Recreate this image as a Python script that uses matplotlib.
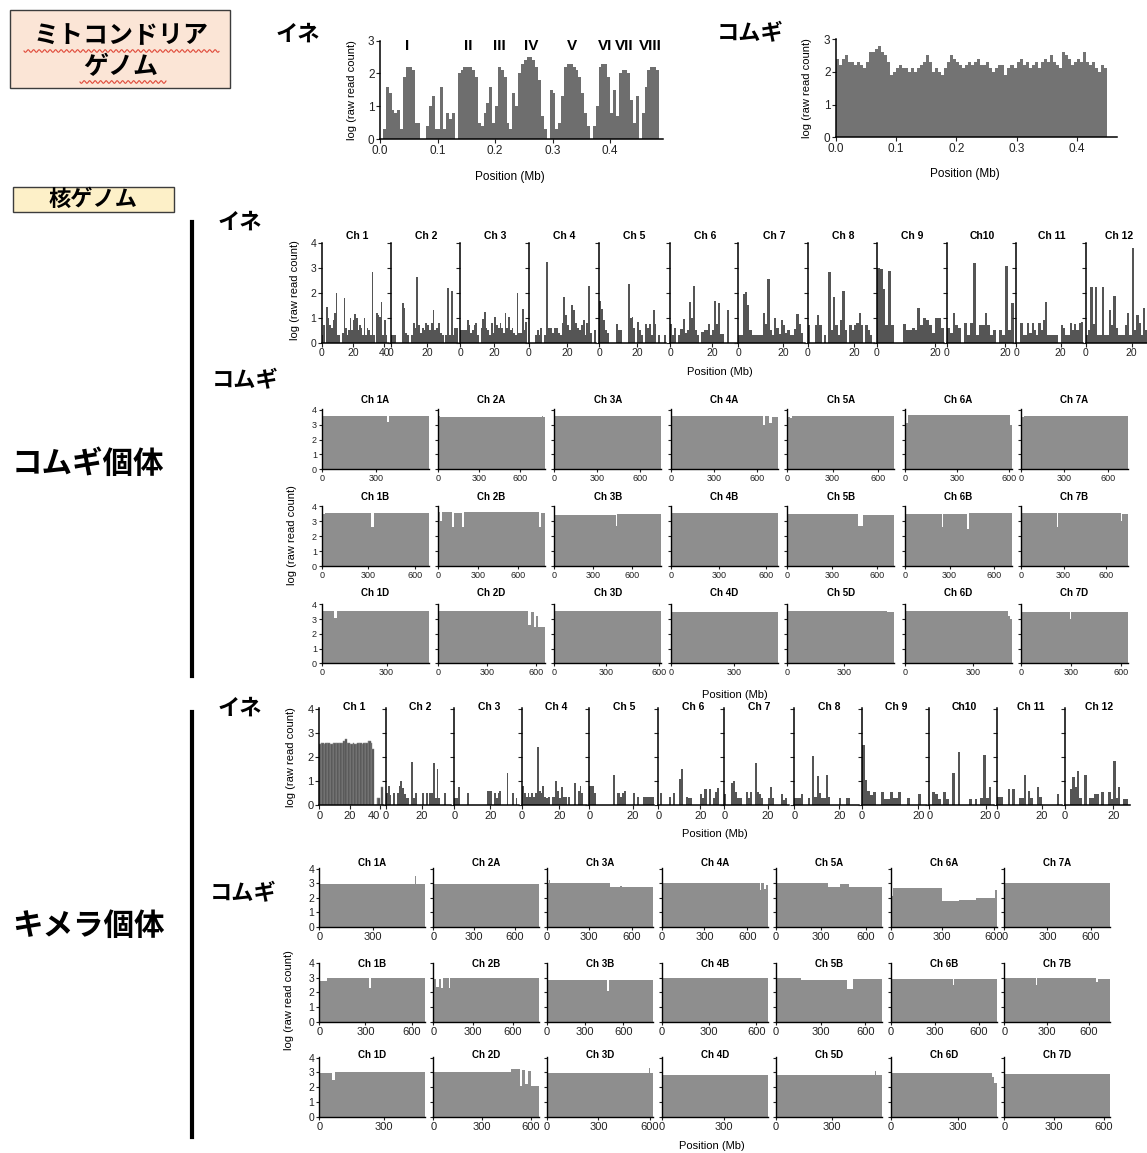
import numpy as np
import matplotlib
matplotlib.use('Agg')
import matplotlib.pyplot as plt
from matplotlib.patches import Rectangle
from matplotlib.lines import Line2D

plt.rcParams['font.family'] = ['Liberation Sans', 'DejaVu Sans']
JP = ['Noto Sans CJK JP', 'DejaVu Sans']

# ---------------- data ----------------
MITO_BIN = 0.005
mito_rice = [0, 0.3, 1.6, 1.4, 0.9, 0.8, 0.9, 0.3, 1.9, 2.2, 2.2, 2.1, 0.5, 0.5, 0, 0,
             0.4, 1.0, 1.3, 0.3, 0.3, 1.6, 0.3, 0.8, 0.6, 0.8, 0, 2.0, 2.1, 2.2, 2.2, 2.2,
             2.1, 1.9, 0.5, 0.4, 0.8, 1.1, 1.6, 0.5, 1.0, 2.2, 2.1, 1.9, 0.5, 0.3, 1.4, 1.0,
             2.0, 2.3, 2.4, 2.5, 2.5, 2.4, 2.2, 1.8, 0.7, 0.3, 0, 1.5, 1.4, 0.3, 0.5, 1.3,
             2.2, 2.3, 2.3, 2.2, 2.1, 1.9, 1.4, 0.8, 0.4, 0, 0.4, 1.0, 2.2, 2.3, 2.3, 1.9,
             0.8, 1.5, 0.7, 2.0, 2.1, 2.1, 2.0, 1.2, 0.5, 1.3, 0, 0.8, 1.6, 2.1, 2.2, 2.2, 2.1]
mito_rice_regions = ['I', 'II', 'III', 'IV', 'V', 'VI', 'VII', 'VIII']
mito_rice_region_pos = [0.048, 0.153, 0.207, 0.262, 0.334, 0.392, 0.425, 0.47]

mito_wheat = [2.4, 2.2, 2.4, 2.5, 2.3, 2.3, 2.2, 2.3, 2.2, 2.1,
              2.3, 2.6, 2.6, 2.7, 2.8, 2.6, 2.5, 2.3, 1.9, 2.0,
              2.1, 2.2, 2.1, 2.1, 2.0, 2.1, 2.0, 2.1, 2.2, 2.3,
              2.5, 2.3, 2.0, 2.1, 2.0, 1.9, 2.1, 2.3, 2.5, 2.4,
              2.3, 2.2, 2.1, 2.2, 2.3, 2.2, 2.3, 2.4, 2.2, 2.2,
              2.3, 2.1, 2.0, 2.1, 2.2, 2.2, 1.9, 2.1, 2.2, 2.1,
              2.3, 2.4, 2.2, 2.3, 2.1, 2.2, 2.3, 2.1, 2.3, 2.4,
              2.3, 2.5, 2.3, 2.2, 2.1, 2.6, 2.5, 2.4, 2.2, 2.3,
              2.4, 2.3, 2.6, 2.3, 2.2, 2.3, 2.1, 2.0, 2.2, 2.1]

rice_names = ['Ch 1', 'Ch 2', 'Ch 3', 'Ch 4', 'Ch 5', 'Ch 6', 'Ch 7', 'Ch 8',
              'Ch 9', 'Ch10', 'Ch 11', 'Ch 12']

# rice reads in the wheat individual, log(raw read count) per 1-Mb bin
rice_in_wheat = [
    [0.3, 0.7, 0, 1.45, 1.0, 0.7, 0.6, 0.9, 1.2, 2.0, 0.3, 0.3, 0, 0.4, 1.8, 0.6, 0.3, 0.5, 1.0, 0.5, 0.9,
     1.15, 1.0, 0.5, 0.7, 0.6, 0.3, 1.0, 0.3, 0.6, 0.5, 0.3, 2.85, 0.3, 0, 1.2, 1.1, 1.05, 1.65, 0.3, 0.9, 0.3, 0],
    [0.3, 0.3, 0.3, 0, 0, 0, 1.6, 1.4, 0.4, 0.3, 0, 0.3, 0.8, 0.6, 2.65, 0.7, 0.4, 0.6, 0.5, 0.8, 0.7, 0.5,
     0.8, 1.3, 0.5, 0.6, 0.8, 0.4, 0.3, 0, 0.3, 2.2, 0.3, 2.1, 0.3, 0.6, 0.6],
    [0.5, 0.5, 0.5, 0.5, 0.9, 0.7, 0.4, 0.5, 0.7, 0.8, 0.3, 0, 0.6, 0.95, 1.25, 0.6, 0.5, 0.3, 0.8, 0.4, 1.05,
     0.7, 0.6, 0.8, 0.6, 0.4, 1.2, 0.6, 1.05, 0.5, 0.6, 0.4, 0.3, 2.0, 0.4, 0.4, 1.35, 0.5, 0.85],
    [0, 0, 0, 0.3, 0.5, 0.3, 0.6, 0, 0.3, 3.25, 0.6, 0.6, 0.4, 0.6, 0.6, 0.4, 0.3, 0.8, 1.85, 1.1, 0.7, 0.5,
     1.5, 1.3, 0.8, 0.6, 0.5, 0.7, 0.9, 0.3, 0.8, 2.3, 0.4, 0, 0.5],
    [1.7, 1.35, 0.9, 0.5, 0.4, 0, 0, 0, 0, 0.75, 0.5, 0.5, 0, 0, 0, 2.35, 1.0, 1.05, 0.6, 0, 0.85, 0.5, 0.3,
     0, 0.75, 0.6, 0.75, 0.3, 1.3, 0.75, 0, 0.3, 0, 0, 0.3],
    [0.75, 0.3, 0.6, 0, 0.3, 0.55, 0.95, 0.4, 0.5, 1.65, 1.0, 2.3, 0.5, 0.3, 0, 0.45, 0.5, 0.5, 0.75, 0.3,
     0.5, 1.7, 0.75, 1.6, 0.35, 0.35, 0, 1.3, 0, 0, 0, 0],
    [0.3, 0.3, 1.95, 2.05, 1.5, 0.5, 0.3, 0.3, 0.3, 0.3, 0.3, 1.2, 0.75, 2.55, 0.5, 0.3, 1.0, 0.6, 0.35, 0.9,
     0.7, 0.4, 0.5, 0.3, 0.3, 0.55, 1.15, 0.75, 0.4, 0],
    [0.7, 0, 0, 0.7, 1.1, 0.7, 0, 0.3, 0, 2.85, 0.5, 1.85, 0.7, 0.3, 0.9, 2.1, 0.5, 0, 0.7, 0.5, 0.7, 0.8,
     1.2, 0.7, 0, 0.7, 0.5, 0.3, 0],
    [3.0, 2.95, 2.15, 0.7, 2.9, 0.7, 0, 0, 0, 0.75, 0.5, 0.5, 0.6, 0.5, 1.4, 0.7, 1.0, 0.9, 0.7, 0.4, 1.0,
     1.0, 0.6],
    [0.6, 0.4, 1.2, 0.7, 0.6, 0, 0.8, 0.3, 0.8, 3.2, 0.3, 0.7, 0.7, 1.2, 0.7, 0.3, 0.5, 0, 0.5, 0.3, 3.1,
     0.5, 1.6],
    [0, 0, 0.8, 0.3, 0.3, 0.8, 0.4, 0.8, 0.5, 0.3, 0.8, 0.5, 0.9, 1.65, 0.3, 0.3, 0.3, 0.3, 0.3, 0, 0.7, 0.6,
     0.3, 0.3, 0.8, 0.5, 0.75, 0.5, 0.8, 0.85],
    [0.3, 0.5, 2.25, 0.75, 2.25, 0.3, 0.3, 2.25, 0.3, 0.3, 1.3, 0.7, 1.9, 0.6, 0.3, 0.3, 0.3, 0.7, 1.2, 0.3,
     3.8, 0.5, 1.1, 0.8, 0.3, 1.4, 0.5],
]

# rice reads in the chimera individual
rice_in_chimera = [
    [2.55, 2.6, 2.6, 2.55, 2.6, 2.6, 2.6, 2.55, 2.55, 2.6, 2.6, 2.6, 2.6, 2.6, 2.6, 2.6, 2.65, 2.75, 2.6,
     2.6, 2.55, 2.55, 2.6, 2.55, 2.55, 2.6, 2.6, 2.6, 2.55, 2.6, 2.6, 2.6, 2.65, 2.65, 2.6, 2.35, 0, 0,
     0.3, 0.3, 0, 0.75, 0],
    [0.5, 0.8, 0.4, 0, 0.5, 0, 0.5, 0.8, 1.0, 0.7, 0.45, 0.3, 0.3, 0, 1.8, 0.3, 0.5, 0, 0, 0, 0.5, 0, 0.5,
     0, 0.5, 0.5, 1.75, 0.3, 1.5, 0.3, 0, 0, 0.5, 0, 0, 0],
    [0.3, 0.3, 0.75, 0, 0, 0, 0, 0.5, 0, 0, 0, 0, 0, 0, 0, 0, 0, 0, 0.6, 0.6, 0.6, 0, 0.5, 0.3, 0.5, 0.6,
     0, 0, 0, 1.35, 0, 0, 0.5, 0, 0.3, 0],
    [0.8, 0.5, 0.35, 0.5, 0.35, 0.5, 0.35, 0.5, 2.4, 0.6, 0.5, 0.8, 0.35, 0.3, 0.35, 0, 0.35, 0.35, 1.0,
     0.6, 0.3, 0.75, 0.35, 0.35, 0, 0.35, 0, 0, 0.9, 0, 0.6, 0.8, 0.5, 0, 0],
    [0.8, 0.8, 0.5, 0, 0, 0, 0, 0, 0, 0, 0, 1.25, 0, 0.5, 0.35, 0.5, 0.6, 0, 0, 0, 0.5, 0, 0.35, 0, 0,
     0.35, 0.35, 0.35, 0.35, 0.35],
    [0, 0.5, 0, 0, 0, 0.35, 0, 0.5, 0, 0, 1.1, 1.5, 0, 0.35, 0.3, 0.3, 0, 0, 0, 0, 0.45, 0.3, 0.65, 0,
     0.65, 0, 0.3, 0.55, 0.7, 0, 0],
    [0.45, 0, 0, 0.9, 1.0, 0.55, 0.3, 0.3, 0, 0, 0.55, 0.3, 0.55, 0, 1.75, 0.55, 0.45, 0.3, 0, 0, 0.3,
     0.75, 0.3, 0, 0, 0, 0.45, 0.2, 0.3, 0],
    [0.3, 0.3, 0.3, 0.45, 0, 0, 0.3, 0, 2.05, 0.35, 1.2, 0.5, 0.3, 0.3, 1.25, 0.35, 0, 0, 0, 0, 0.3, 0, 0,
     0.3, 0.3, 0, 0, 0, 0],
    [2.5, 1.05, 0.6, 0.4, 0.55, 0, 0, 0.55, 0.25, 0.25, 0.55, 0.3, 0.3, 0.55, 0, 0, 0.3, 0, 0, 0, 0.45,
     0, 0],
    [0, 0.55, 0.45, 0.25, 0, 0.55, 0.25, 0, 1.35, 0, 2.2, 0, 0, 0, 0.25, 0, 0.25, 0, 0.3, 2.1, 0.3,
     0.75, 0],
    [0.35, 0.35, 0.35, 0, 0, 0.65, 0, 0.65, 0, 0, 0.3, 0.3, 1.25, 0, 0.6, 0.3, 0, 0, 0.75, 0.35, 0, 0,
     0, 0, 0, 0, 0, 0.45, 0],
    [0, 0, 0.65, 1.15, 0.75, 1.4, 0.3, 0, 1.25, 0, 0.3, 0.3, 0.45, 0.45, 0, 0.55, 0, 0, 0.55, 0.25,
     1.85, 0.3, 0.75, 0, 0.25, 0.25, 0],
]

wheat_rows = [['1A', '2A', '3A', '4A', '5A', '6A', '7A'],
              ['1B', '2B', '3B', '4B', '5B', '6B', '7B'],
              ['1D', '2D', '3D', '4D', '5D', '6D', '7D']]
wheat_len = {'1A': 594, '2A': 780, '3A': 750, '4A': 744, '5A': 709, '6A': 618, '7A': 737,
             '1B': 689, '2B': 801, '3B': 830, '4B': 673, '5B': 713, '6B': 720, '7B': 750,
             '1D': 495, '2D': 651, '3D': 615, '4D': 509, '5D': 566, '6D': 473, '7D': 638}

# (start Mb, log read count) steps, wheat individual
wheat_in_wheat = {
    '1A': [(0, 3.6), (365, 3.2), (372, 3.6)],
    '2A': [(0, 3.6), (15, 3.5), (760, 3.6), (770, 3.5)],
    '3A': [(0, 3.6)],
    '4A': [(0, 3.55), (600, 3.6), (640, 3.0), (655, 3.55), (680, 3.1), (700, 3.5)],
    '5A': [(0, 3.5), (15, 3.45), (30, 3.55)],
    '6A': [(0, 3.1), (20, 3.65), (605, 3.0)],
    '7A': [(0, 3.5), (20, 3.6), (700, 3.55)],
    '1B': [(0, 3.5), (20, 3.55), (315, 2.6), (335, 3.55)],
    '2B': [(0, 3.6), (20, 3.0), (30, 3.6), (110, 2.6), (125, 3.55), (180, 2.6), (195, 3.6),
           (760, 2.6), (775, 3.55)],
    '3B': [(0, 3.45), (475, 2.7), (490, 3.5)],
    '4B': [(0, 3.55)],
    '5B': [(0, 3.5), (470, 2.7), (505, 3.45)],
    '6B': [(0, 3.5), (250, 2.6), (258, 3.5), (420, 2.5), (428, 3.55)],
    '7B': [(0, 3.55), (255, 2.6), (262, 3.55), (700, 3.0), (710, 3.5)],
    '1D': [(0, 3.55), (55, 3.05), (70, 3.55)],
    '2D': [(0, 3.55), (550, 2.6), (568, 3.5), (585, 2.5), (600, 3.2), (612, 2.5)],
    '3D': [(0, 3.55)],
    '4D': [(0, 3.5)],
    '5D': [(0, 3.55), (530, 3.5)],
    '6D': [(0, 3.55), (455, 3.2), (465, 3.0)],
    '7D': [(0, 3.5), (295, 3.0), (300, 3.5)],
}

# wheat reads in the chimera individual
wheat_in_chimera = {
    '1A': [(0, 2.95), (535, 3.5), (540, 2.95)],
    '2A': [(0, 2.95)],
    '3A': [(0, 3.0), (15, 3.2), (22, 3.0), (450, 2.75), (520, 2.8), (530, 2.75)],
    '4A': [(0, 3.0), (690, 2.5), (700, 3.0), (720, 2.6), (730, 2.9)],
    '5A': [(0, 3.0), (345, 2.75), (425, 2.95), (490, 2.75)],
    '6A': [(0, 2.1), (15, 2.65), (300, 1.75), (400, 1.85), (500, 1.95), (600, 2.0), (610, 2.5)],
    '7A': [(0, 3.0)],
    '1B': [(0, 2.8), (50, 3.0), (320, 2.3), (335, 3.0)],
    '2B': [(0, 2.9), (20, 2.4), (45, 2.9), (60, 2.3), (70, 3.0), (115, 2.3), (125, 3.0)],
    '3B': [(0, 2.85), (470, 2.1), (485, 2.85)],
    '4B': [(0, 3.0)],
    '5B': [(0, 3.0), (165, 2.85), (480, 2.2), (515, 2.9)],
    '6B': [(0, 2.9), (420, 2.5), (428, 2.9)],
    '7B': [(0, 3.0), (225, 2.5), (232, 3.0), (650, 2.7), (660, 2.9)],
    '1D': [(0, 2.95), (60, 2.5), (75, 3.0)],
    '2D': [(0, 3.0), (480, 3.25), (530, 2.1), (545, 3.15), (565, 2.2), (580, 3.1), (600, 2.1)],
    '3D': [(0, 2.95), (595, 3.3), (600, 2.95)],
    '4D': [(0, 2.85)],
    '5D': [(0, 2.85), (530, 3.1), (535, 2.85)],
    '6D': [(0, 2.95), (450, 2.7), (462, 2.3)],
    '7D': [(0, 2.9), (250, 3.2), (253, 2.9)],
}

# ---------------- figure ----------------
W, H = 1147, 1153
fig = plt.figure(figsize=(W / 100, H / 100), dpi=100)
fig.patch.set_facecolor('white')

MITO_C = '#6e6e6e'
RICE_C = '#555555'
CHIM1_C = '#4a4a4a'
WHEAT_C = '#8e8e8e'


def add_ax(left, top, right, bottom):
    return fig.add_axes([left / W, 1 - bottom / H, (right - left) / W, (bottom - top) / H])


def ftext(x, y, s, **kw):
    kw.setdefault('ha', 'center')
    kw.setdefault('va', 'center')
    return fig.text(x / W, 1 - y / H, s, **kw)


def style(ax, fs, ylabels=True, lw=1.1, tl=3):
    for s in ['top', 'right']:
        ax.spines[s].set_visible(False)
    for s in ['left', 'bottom']:
        ax.spines[s].set_linewidth(lw)
    ax.tick_params(direction='out', length=tl, width=0.8, labelsize=fs, pad=1, colors='#222222')
    if not ylabels:
        ax.set_yticklabels([])
    ax.patch.set_alpha(0)


def jp(x, y, s, size, **kw):
    return ftext(x, y, s, fontsize=size, fontweight='bold', family=JP, **kw)


# ---- header boxes ----
fig.add_artist(Rectangle((10 / W, 1 - 88 / H), 220 / W, 78 / H, transform=fig.transFigure,
                         facecolor='#fbe5d6', edgecolor='#3c3c3c', lw=1.0))
jp(121, 36, 'ミトコンドリア', 18)
jp(121, 67, 'ゲノム', 18)
for x0, x1, yy in [(24, 219, 51), (80, 166, 82)]:
    xs = np.linspace(x0, x1, 300)
    ys = yy + 1.3 * np.sin(2 * np.pi * (xs - x0) / 5.5)
    fig.add_artist(Line2D(xs / W, 1 - ys / H, color='#e04a3a', lw=0.8))

fig.add_artist(Rectangle((13 / W, 1 - 212 / H), 161 / W, 25 / H, transform=fig.transFigure,
                         facecolor='#fdf0c8', edgecolor='#3c3c3c', lw=1.0))
jp(93, 199, '核ゲノム', 16)

jp(88, 464, 'コムギ個体', 22)
jp(88, 926, 'キメラ個体', 22)
fig.add_artist(Line2D([192 / W, 192 / W], [1 - 222 / H, 1 - 676 / H], color='black', lw=3))
fig.add_artist(Line2D([192 / W, 192 / W], [1 - 712 / H, 1 - 1137 / H], color='black', lw=3))

jp(298, 34, 'イネ', 16)
jp(750, 34, 'コムギ', 16)
jp(240, 222, 'イネ', 16)
jp(245, 381, 'コムギ', 16)
jp(240, 708, 'イネ', 16)
jp(243, 894, 'コムギ', 16)

# ---- mitochondrial genome ----
ax = add_ax(380, 40.7, 663, 139)
ax.bar(np.arange(len(mito_rice)) * MITO_BIN, mito_rice, width=MITO_BIN, align='edge',
       color=MITO_C, linewidth=0)
ax.set_xlim(0, 0.492)
ax.set_ylim(0, 3)
ax.set_xticks([0, 0.1, 0.2, 0.3, 0.4])
ax.set_xticklabels(['0.0', '0.1', '0.2', '0.3', '0.4'])
ax.set_yticks([0, 1, 2, 3])
style(ax, 8.5)
for lab, p in zip(mito_rice_regions, mito_rice_region_pos):
    ax.text(p, 2.83, lab, ha='center', va='center', fontsize=11, fontweight='bold', clip_on=False)
ftext(352, 90, 'log (raw read count)', fontsize=8, rotation=90)
ftext(510, 177, 'Position (Mb)', fontsize=8.5)

ax = add_ax(836, 39, 1117, 137.3)
ax.bar(np.arange(len(mito_wheat)) * MITO_BIN, mito_wheat, width=MITO_BIN, align='edge',
       color='#737373', linewidth=0)
ax.set_xlim(0, 0.467)
ax.set_ylim(0, 3)
ax.set_xticks([0, 0.1, 0.2, 0.3, 0.4])
ax.set_xticklabels(['0.0', '0.1', '0.2', '0.3', '0.4'])
ax.set_yticks([0, 1, 2, 3])
style(ax, 8.5)
ftext(807, 88, 'log (raw read count)', fontsize=8, rotation=90)
ftext(965, 174, 'Position (Mb)', fontsize=8.5)


# ---- rice chromosome panels ----
def rice_panels(data, lefts, widths, top, bottom, title_y, color_first=None, fs=7.5):
    for i, (name, vals) in enumerate(zip(rice_names, data)):
        left = lefts[i]
        ax = add_ax(left, top, left + widths[i], bottom)
        n = len(vals)
        if i == 0 and color_first is not None:
            ax.bar(np.arange(n), vals, width=1, align='edge', color=color_first,
                   edgecolor='#8c8c8c', linewidth=0.35)
        else:
            ax.bar(np.arange(n), vals, width=1, align='edge', color=RICE_C, linewidth=0)
        ax.set_xlim(0, n)
        ax.set_ylim(0, 4.03)
        ax.set_yticks([0, 1, 2, 3, 4])
        ax.set_xticks([0, 20, 40] if n > 40 else [0, 20])
        style(ax, fs, ylabels=(i == 0))
        if n > 40 and color_first is not None:
            ax.get_xticklabels()[-1].set_horizontalalignment('right')
        ftext(left + widths[i] / 2 + 2, title_y, name, fontsize=7.5, fontweight='bold')


rice_panels(rice_in_wheat,
            [321.7, 391, 460, 529, 599, 670, 738.3, 807.7, 876.7, 946.7, 1016, 1085.7],
            [67] * 11 + [62], 242.7, 342.7, 236)
ftext(295, 290, 'log (raw read count)', fontsize=8, rotation=90)
ftext(720, 372, 'Position (Mb)', fontsize=8)

rice_panels(rice_in_chimera,
            [319.3, 386, 454.3, 522, 589.3, 658.3, 724.3, 794.3, 861.7, 929.3, 996.7, 1065],
            [65] * 12, 708.3, 805, 707, color_first=CHIM1_C, fs=8)
ftext(291, 757, 'log (raw read count)', fontsize=8, rotation=90)
ftext(715, 834, 'Position (Mb)', fontsize=8)


# ---- wheat chromosome grids ----
def wheat_grid(data, lefts, width, rows_tb, title_ys, fs, yfs):
    for r, row in enumerate(wheat_rows):
        top, bottom = rows_tb[r]
        for c, name in enumerate(row):
            left = lefts[c]
            ax = add_ax(left, top, left + width, bottom)
            L = wheat_len[name]
            segs = data[name]
            xs = [s[0] for s in segs] + [L]
            ys = [s[1] for s in segs] + [segs[-1][1]]
            ax.fill_between(xs, ys, step='post', color=WHEAT_C, linewidth=0)
            ax.set_xlim(0, L)
            ax.set_ylim(0, 4.03)
            ax.set_yticks([0, 1, 2, 3, 4])
            ax.set_xticks(np.arange(0, L + 1, 300))
            style(ax, fs, ylabels=(c == 0), lw=1.0, tl=2.5)
            if c == 0:
                ax.tick_params(axis='y', labelsize=yfs)
            ftext(left + width / 2, title_ys[r], 'Ch ' + name, fontsize=7, fontweight='bold')


wheat_grid(wheat_in_wheat, [321.7, 437.7, 554.3, 671, 787.3, 905, 1020.7], 107,
           [(409.3, 469.3), (506, 566), (604, 663.3)], [400, 496.7, 592.7], 6.5, 6.5)
ftext(292, 535, 'log (raw read count)', fontsize=8, rotation=90)
ftext(735, 695, 'Position (Mb)', fontsize=8)

wheat_grid(wheat_in_chimera, [319.3, 433.3, 546.7, 661.7, 776, 890.7, 1004.3], 106,
           [(868.3, 926.7), (962.7, 1021.7), (1057.3, 1116.7)], [863, 964, 1055], 8, 7.5)
ftext(289, 1000, 'log (raw read count)', fontsize=8, rotation=90)
ftext(712, 1146, 'Position (Mb)', fontsize=8)

fig.savefig('out.png', dpi=100, facecolor='white')
